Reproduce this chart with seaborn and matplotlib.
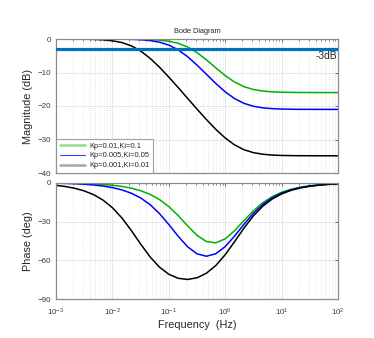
import numpy as np
import pandas as pd
import matplotlib
matplotlib.use("Agg")
import matplotlib.pyplot as plt
from matplotlib.lines import Line2D
from matplotlib.ticker import LogLocator, NullFormatter, FixedLocator
import seaborn as sns

# frequency samples (Hz), log-spaced 6 per decade
freq = [0.001, 0.001468, 0.002154, 0.003162, 0.004642, 0.006813,
        0.01, 0.01468, 0.02154, 0.03162, 0.04642, 0.06813,
        0.1, 0.1468, 0.2154, 0.3162, 0.4642, 0.6813,
        1.0, 1.468, 2.154, 3.162, 4.642, 6.813,
        10.0, 14.68, 21.54, 31.62, 46.42, 68.13, 100.0]

labels = ["Kp=0.01,Ki=0.1", "Kp=0.005,Ki=0.05", "Kp=0.001,Ki=0.01"]

mag_green = [0.00, 0.00, 0.00, -0.001, -0.002, -0.003, -0.007, -0.015, -0.033, -0.071,
             -0.148, -0.313, -0.646, -1.284, -2.389, -4.059, -6.217, -8.613, -10.925,
             -12.855, -14.231, -15.078, -15.54, -15.78, -15.88, -15.94, -15.97, -15.98,
             -15.99, -15.99, -15.99]
mag_blue = [0.00, 0.00, -0.001, -0.002, -0.005, -0.011, -0.023, -0.049, -0.105, -0.222,
            -0.462, -0.939, -1.815, -3.248, -5.278, -7.782, -10.531, -13.276, -15.773,
            -17.794, -19.213, -20.082, -20.552, -20.791, -20.905, -20.96, -20.99, -21.00,
            -21.01, -21.01, -21.01]
mag_black = [-0.006, -0.012, -0.026, -0.055, -0.118, -0.250, -0.522, -1.055, -2.019, -3.570,
             -5.735, -8.393, -11.367, -14.508, -17.712, -20.913, -24.034, -26.964, -29.549,
             -31.612, -33.051, -33.929, -34.40, -34.64, -34.76, -34.81, -34.84, -34.85,
             -34.86, -34.86, -34.86]

ph_green = [-0.20, -0.29, -0.42, -0.62, -0.91, -1.34, -1.96, -2.87, -4.21, -6.16,
            -8.97, -12.96, -18.43, -25.42, -33.29, -40.58, -45.41, -46.42, -43.35,
            -37.05, -29.22, -21.67, -15.43, -10.75, -7.40, -5.07, -3.46, -2.36,
            -1.61, -1.09, -0.75]
ph_blue = [-0.38, -0.56, -0.81, -1.20, -1.76, -2.57, -3.77, -5.53, -8.08, -11.73,
           -16.87, -23.76, -32.24, -41.36, -49.44, -54.89, -56.77, -54.82, -49.31,
           -41.19, -32.07, -23.62, -16.76, -11.66, -8.02, -5.49, -3.74, -2.56,
           -1.74, -1.18, -0.81]
ph_black = [-2.01, -2.95, -4.32, -6.33, -9.24, -13.43, -19.28, -27.13, -36.77, -47.31,
            -57.18, -65.14, -70.67, -73.79, -74.68, -73.41, -69.88, -63.92, -55.57,
            -45.47, -35.00, -25.61, -18.11, -12.58, -8.65, -5.92, -4.04, -2.76,
            -1.88, -1.28, -0.87]

ref_db = -3.0
ref_label = "-3dB"

mag_ticks = [0, -10, -20, -30, -40]
ph_ticks = [0, -30, -60, -90]

sns.set_theme(style="white")
plt.rcParams["font.family"] = ["Liberation Sans", "DejaVu Sans"]

fig = plt.figure(figsize=(3.74, 3.38), dpi=100)
ax1 = fig.add_axes([56/374, (338-173)/338, 282/374, 134/338])
ax2 = fig.add_axes([56/374, (338-299.3)/338, 282/374, 116.6/338])

colors = ["#00b000", "#0000ff", "#000000"]
df_mag = pd.DataFrame({"f": freq * 3,
                       "v": mag_green + mag_blue + mag_black,
                       "s": sum([[l] * len(freq) for l in labels], [])})
df_ph = pd.DataFrame({"f": freq * 3,
                      "v": ph_green + ph_blue + ph_black,
                      "s": sum([[l] * len(freq) for l in labels], [])})

grid_c = "#e3e3e3"
frame_c = "#8a8a8a"
tick_c = "#3a3a3a"

for ax in (ax1, ax2):
    ax.set_xscale("log")
    ax.set_xlim(1e-3, 1e2)
    ax.xaxis.set_major_locator(LogLocator(base=10, numticks=10))
    ax.xaxis.set_minor_locator(LogLocator(base=10, subs=np.arange(2, 10), numticks=100))
    ax.xaxis.set_minor_formatter(NullFormatter())
    ax.grid(True, which="major", color=grid_c, lw=0.6, ls="-")
    ax.grid(True, which="minor", axis="x", color="#d0d0d0", lw=0.5, ls=(0, (1, 2)))
    ax.set_axisbelow(True)
    for sp in ax.spines.values():
        sp.set_color(frame_c)
        sp.set_linewidth(0.9)
    ax.tick_params(which="both", direction="in", top=True, right=True,
                   color="#555555", labelsize=5.8, labelcolor=tick_c)
    ax.tick_params(axis="y", pad=3.5)
    ax.tick_params(axis="x", pad=5)
    ax.tick_params(which="major", length=2.5, width=0.6)
    ax.tick_params(which="minor", length=1.5, width=0.5)

sns.lineplot(data=df_mag, x="f", y="v", hue="s", palette=colors, ax=ax1,
             lw=1.1, legend=False, sort=False, estimator=None)
ax1.axhline(ref_db, color="#0072BD", lw=2.3, zorder=5)
ax1.set_ylim(-40, 0)
ax1.yaxis.set_major_locator(FixedLocator(mag_ticks))
ax1.set_xticklabels([])
ax1.set_xlabel("")
ax1.set_ylabel("Magnitude (dB)", fontsize=7.8, color="#262626", labelpad=3)
ax1.set_title("Bode Diagram", fontsize=5.3, color="#262626", pad=4)
ax1.text(0.995, 0.875, ref_label, transform=ax1.transAxes, ha="right", va="center",
         fontsize=7.3, color="#262626")

handles = [Line2D([], [], color="#90dc90", lw=1.8),
           Line2D([], [], color="#3c3cff", lw=0.8),
           Line2D([], [], color="#a6a6a6", lw=1.8)]
leg = ax1.legend(handles, labels, loc="lower left", fontsize=5.4, frameon=True,
                 fancybox=False, borderaxespad=0, handlelength=3.4,
                 handletextpad=0.5, labelspacing=0.35, borderpad=0.5)
leg.get_frame().set_edgecolor(frame_c)
leg.get_frame().set_linewidth(0.8)
for t in leg.get_texts():
    t.set_color("#262626")

sns.lineplot(data=df_ph, x="f", y="v", hue="s", palette=colors, ax=ax2,
             lw=1.1, legend=False, sort=False, estimator=None)
ax2.set_ylim(-90, 0)
ax2.yaxis.set_major_locator(FixedLocator(ph_ticks))
ax2.set_ylabel("Phase (deg)", fontsize=7.8, color="#262626", labelpad=3)
ax2.set_xlabel("Frequency  (Hz)", fontsize=7.8, color="#262626", labelpad=2)

fig.savefig("out.png", dpi=100)
